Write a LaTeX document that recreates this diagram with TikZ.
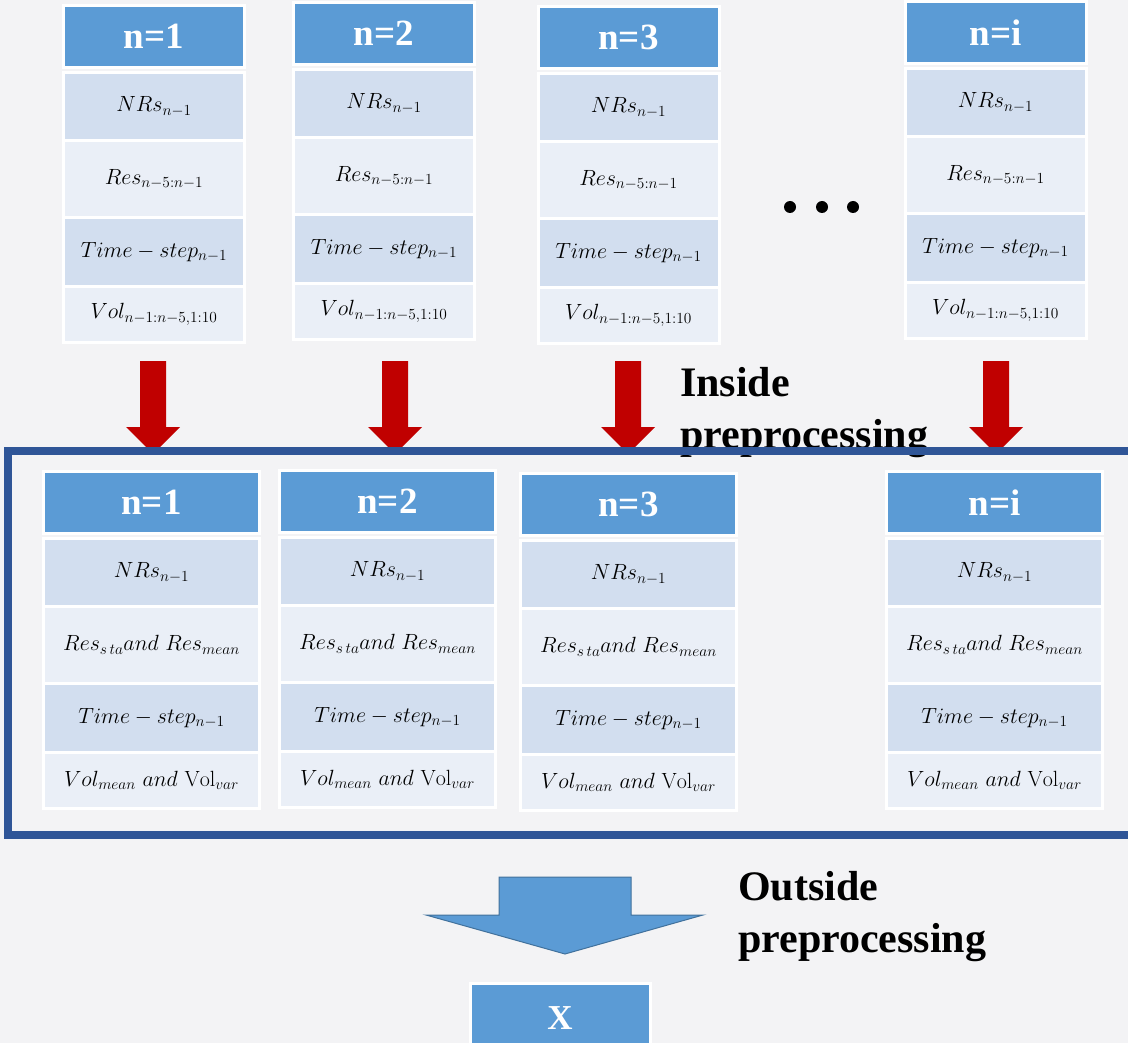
\documentclass[tikz,border=0pt]{standalone}
\usepackage{fix-cm}
\usepackage{fontspec}
\newfontfamily\hdrfont{Liberation Serif}
\usetikzlibrary{positioning}

\definecolor{hdrblue}{HTML}{5B9BD5}
\definecolor{rowdark}{HTML}{D2DEEF}
\definecolor{rowlight}{HTML}{EAEFF7}
\definecolor{framebl}{HTML}{2F5597}
\definecolor{arrred}{HTML}{C00000}
\definecolor{arredge}{HTML}{41719C}
\definecolor{bggray}{HTML}{F3F3F5}

\tikzstyle{cell} = [draw=white, line width=3pt, inner sep=0pt, outer sep=0pt, font=\fontsize{22}{22}\selectfont]
\tikzstyle{hdr} = [cell, fill=hdrblue, text=white, minimum height=62pt, font=\hdrfont\bfseries\fontsize{37}{37}\selectfont]
\tikzstyle{rowd} = [cell, fill=rowdark]
\tikzstyle{rowl} = [cell, fill=rowlight]
\tikzstyle{note} = [anchor=north west, align=left, inner sep=0pt, font=\hdrfont\bfseries\fontsize{42}{52}\selectfont]

% raw input column: name, x, top, width, header
\newcommand{\rawcol}[5]{
  \node (#1h) at (#2,#3) [hdr, anchor=north, minimum width=#4] {#5};
  \node (#1a) [rowd, below=5pt of #1h, minimum width=#4, minimum height=68pt] {$NRs_{n-1}$};
  \node (#1b) [rowl, below=0pt of #1a, minimum width=#4, minimum height=77pt] {$Res_{n-5:n-1}$};
  \node (#1c) [rowd, below=0pt of #1b, minimum width=#4, minimum height=69pt] {$Time-step_{n-1}$};
  \node (#1d) [rowl, below=0pt of #1c, minimum width=#4, minimum height=56pt] {$Vol_{n-1:n-5,1:10}$};
}
% preprocessed column: name, x, top, width, header
\newcommand{\prepcol}[5]{
  \node (#1h) at (#2,#3) [hdr, anchor=north, minimum width=#4] {#5};
  \node (#1a) [rowd, below=5pt of #1h, minimum width=#4, minimum height=68pt] {$NRs_{n-1}$};
  \node (#1b) [rowl, below=0pt of #1a, minimum width=#4, minimum height=77pt] {$Res_{s\,ta}and\ Res_{mean}$};
  \node (#1c) [rowd, below=0pt of #1b, minimum width=#4, minimum height=69pt] {$Time-step_{n-1}$};
  \node (#1d) [rowl, below=0pt of #1c, minimum width=#4, minimum height=56pt] {$Vol_{mean}\ and\ \mathrm{Vol}_{var}$};
}
% red down arrow at x
\newcommand{\redarr}[1]{
  \fill[arrred] (#1-13,361) -- (#1+13,361) -- (#1+13,427) -- (#1+27,427)
    -- (#1,454) -- (#1-27,427) -- (#1-13,427) -- cycle;
}

\begin{document}
\begin{tikzpicture}[x=1pt,y=-1pt]
  \useasboundingbox (0,0) rectangle (1128,1043);
  \clip (0,0) rectangle (1128,1043);
  \fill[bggray] (0,0) rectangle (1128,1043);

  % input columns
  \rawcol{ra}{154}{5.5}{181pt}{n=1}
  \rawcol{rb}{384}{2.5}{181pt}{n=2}
  \rawcol{rc}{628.5}{6.5}{181pt}{n=3}
  \rawcol{ri}{995.5}{1.5}{181pt}{n=i}

  \fill (790,207) circle (6pt);
  \fill (822,207) circle (6pt);
  \fill (853,207) circle (6pt);

  \redarr{153}
  \redarr{395}
  \redarr{628}
  \redarr{996}

  \node (inlbl) at (680,367) [note] {Inside\\preprocessing};

  \draw[framebl, line width=7.5pt] (8,451) rectangle (1140,835);

  % preprocessed columns
  \prepcol{pa}{151.5}{471.5}{216pt}{n=1}
  \prepcol{pb}{387.5}{470.5}{216pt}{n=2}
  \prepcol{pc}{628.5}{473.5}{216pt}{n=3}
  \prepcol{pi}{994.5}{471.5}{216pt}{n=i}

  \filldraw[fill=hdrblue, draw=arredge, line width=1pt] (499,877) -- (631,877) -- (631,915)
    -- (703,915) -- (565,954) -- (426,915) -- (499,915) -- cycle;

  \node (outlbl) at (738,871) [note] {Outside\\preprocessing};

  \node (xbox) at (560,983.5) [hdr, anchor=north, minimum width=180pt, minimum height=70pt, font=\hdrfont\bfseries\fontsize{35}{35}\selectfont] {X};
\end{tikzpicture}
\end{document}
